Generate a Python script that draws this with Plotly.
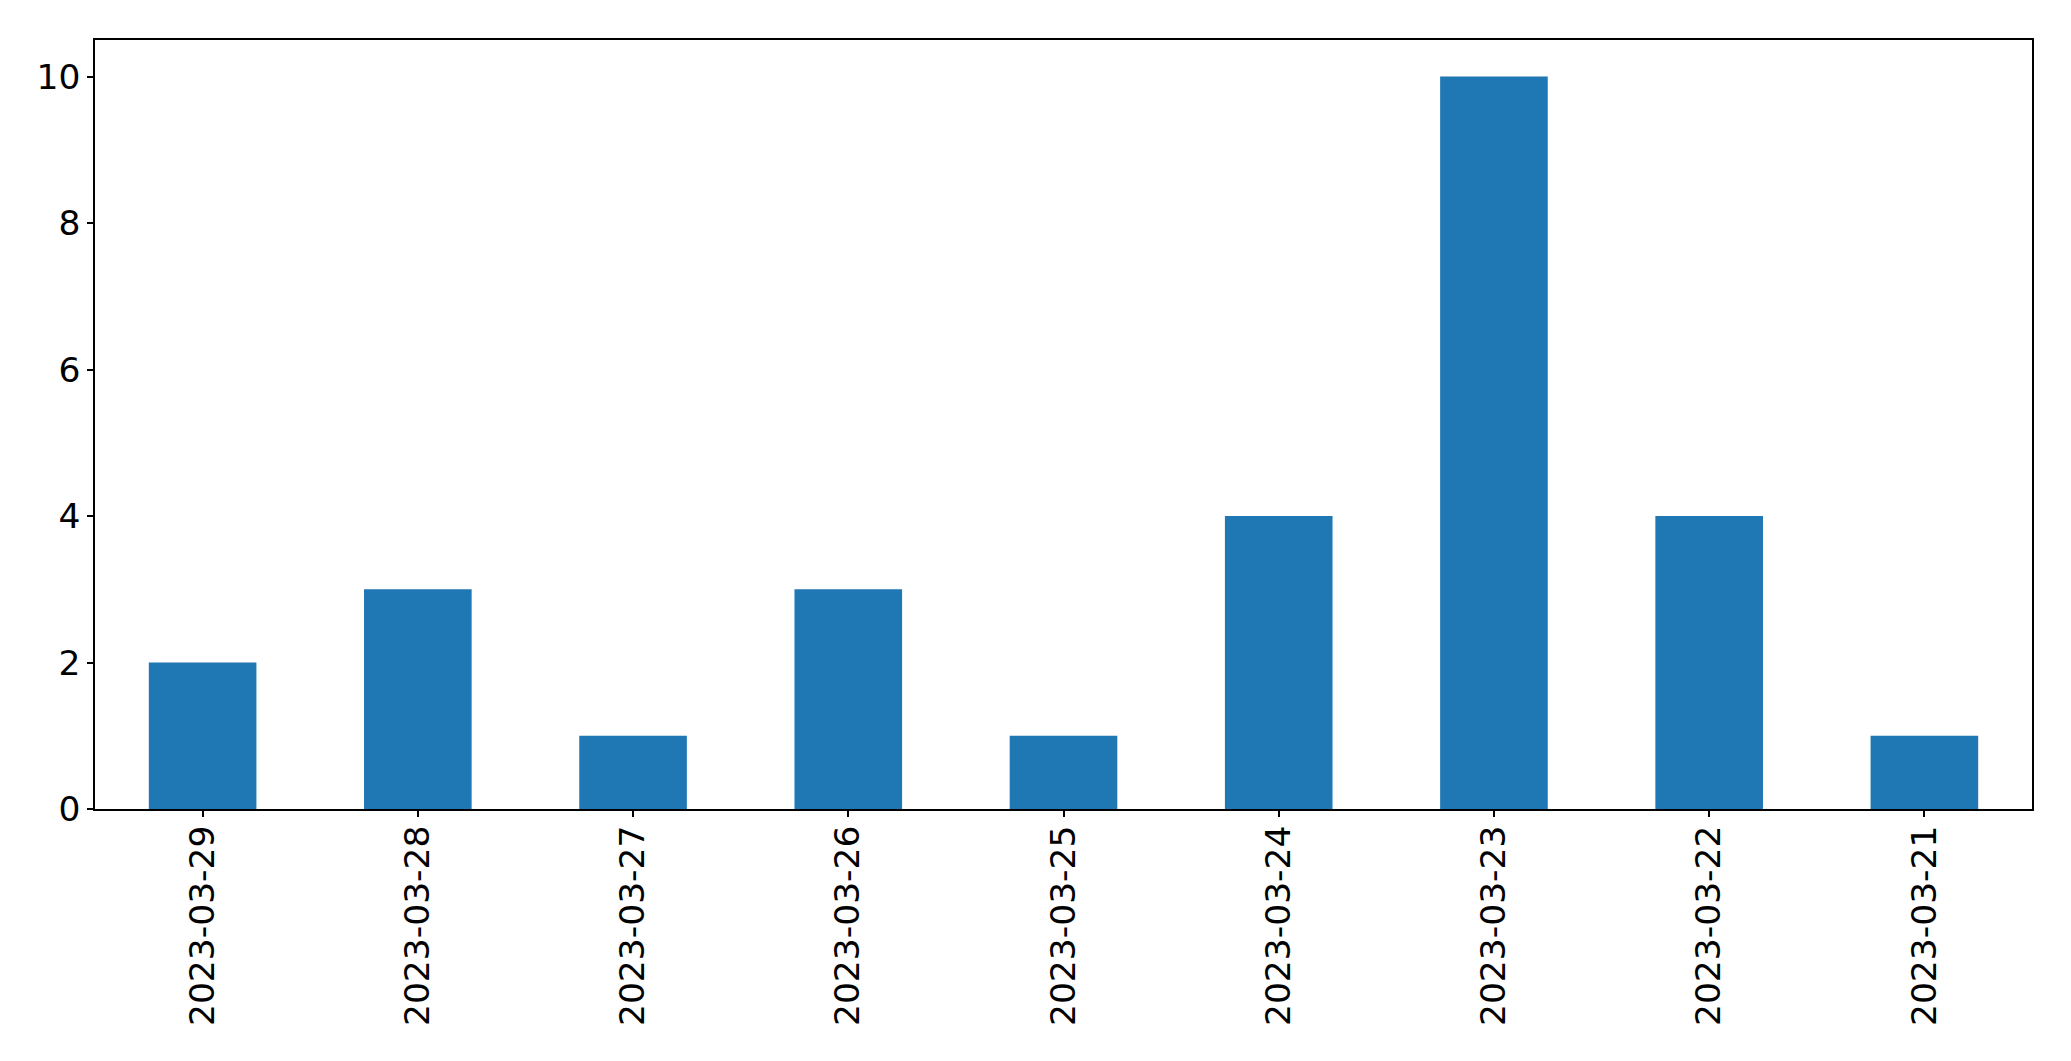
import plotly.graph_objects as go

dates = ["2023-03-29", "2023-03-28", "2023-03-27", "2023-03-26", "2023-03-25",
         "2023-03-24", "2023-03-23", "2023-03-22", "2023-03-21"]
counts = [2, 3, 1, 3, 1, 4, 10, 4, 1]
y_ticks = [0, 2, 4, 6, 8, 10]

fig = go.Figure(go.Bar(x=dates, y=counts, marker_color="#1f77b4",
                       marker_line_width=0, width=0.5))

# page body has an 8px default margin; compensate so the frame lands where the reference has it
fig.update_layout(
    width=2063, height=1053,
    margin=dict(l=86.5, r=39.3, t=31.5, b=252, autoexpand=False),
    paper_bgcolor="white", plot_bgcolor="white",
    font=dict(family="DejaVu Sans", size=34.5, color="black"),
    showlegend=False,
)
fig.update_xaxes(
    type="category", range=[-0.5, 8.5], tickangle=-90,
    showline=True, linecolor="black", linewidth=1.5, mirror=True,
    ticks="outside", ticklen=6, tickcolor="black", tickwidth=1.5,
    showgrid=False, tickfont=dict(size=34.5), ticklabelstandoff=-5,
)
fig.update_yaxes(
    range=[0, 10.5], tickvals=y_ticks,
    showline=True, linecolor="black", linewidth=1.5, mirror=True,
    ticks="outside", ticklen=6, tickcolor="black", tickwidth=1.5,
    showgrid=False, zeroline=False, tickfont=dict(size=34.5),
)

fig.write_html("out.html")
